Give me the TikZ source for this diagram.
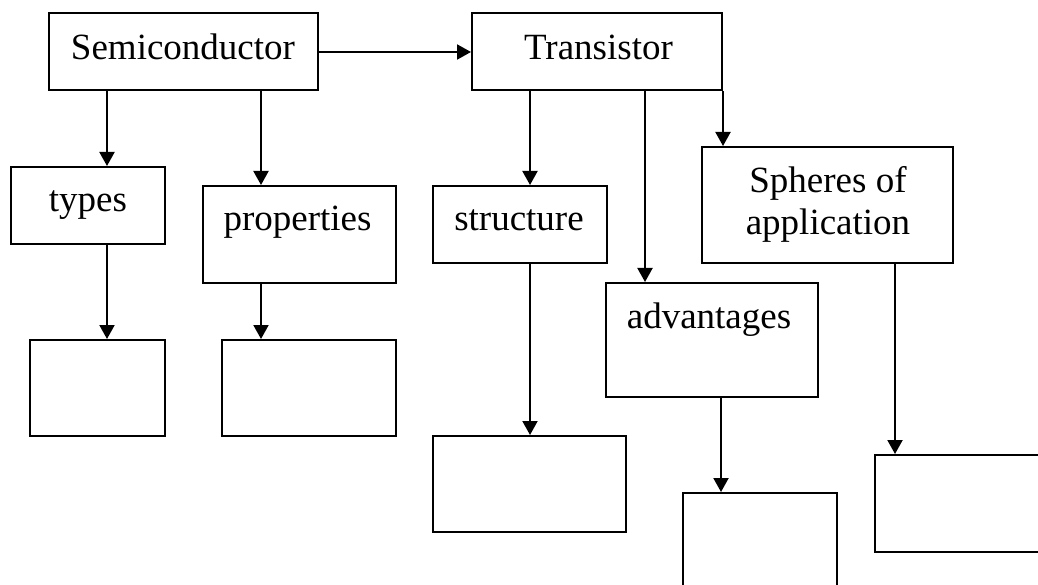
\documentclass[tikz,border=0pt]{standalone}
\usepackage{fontspec}
\setmainfont{Liberation Serif}
\usetikzlibrary{arrows.meta}
\tikzset{
  box/.style={draw=black, line width=2pt, inner sep=0pt, fill=white},
  txt/.style={inner sep=0pt, font=\fontsize{37}{42}\selectfont, anchor=base},
  arr/.style={line width=2pt, -{Triangle[length=14pt,width=15pt]}},
}
\newcommand{\boxat}[5]{% name, x1, y1, x2, y2
  \node[box, minimum width={(#4)-(#2)}, minimum height={(#5)-(#3)}] (#1) at ({((#2)+(#4))/2},{((#3)+(#5))/2}) {};}
\begin{document}
\begin{tikzpicture}[x=1pt,y=-1pt]
\clip (0,0) rectangle (1038,585);
\fill[white] (0,0) rectangle (1038,585);
% boxes
\boxat{semi}{49}{13}{318}{90}
\boxat{trans}{472}{13}{722}{90}
\boxat{types}{11}{167}{165}{244}
\boxat{props}{203}{186}{396}{283}
\boxat{struct}{433}{186}{607}{263}
\boxat{adv}{606}{283}{818}{397}
\boxat{spheres}{702}{147}{953}{263}
\boxat{typesc}{30}{340}{165}{436}
\boxat{propsc}{222}{340}{396}{436}
\boxat{structc}{433}{436}{626}{532}
\boxat{advc}{683}{493}{837}{620}
\boxat{spheresc}{875}{455}{1080}{552}
% texts
\node[txt] (tsemi) at (183,60) {Semiconductor};
\node[txt] (ttrans) at (598.5,60) {Transistor};
\node[txt] (ttypes) at (88,212) {types};
\node[txt] (tprops) at (297.5,231) {properties};
\node[txt] (tstruct) at (519,231) {structure};
\node[txt] (tadv) at (709,328) {advantages};
\node[txt, align=center] (tspheres) at (828,235) {Spheres of\\application};
% connectors
\draw[arr] (semi.east |- 0,52) -- (trans.west |- 0,52);
\draw[arr] (semi.south -| 107,0) -- (types.north -| 107,0);
\draw[arr] (semi.south -| 261,0) -- (props.north -| 261,0);
\draw[arr] (trans.south -| 530,0) -- (struct.north -| 530,0);
\draw[arr] (trans.south -| 645,0) -- (adv.north -| 645,0);
\draw[arr] (trans.south east) -- (spheres.north -| trans.south east);
\draw[arr] (types.south -| 107,0) -- (typesc.north -| 107,0);
\draw[arr] (props.south -| 261,0) -- (propsc.north -| 261,0);
\draw[arr] (struct.south -| 530,0) -- (structc.north -| 530,0);
\draw[arr] (adv.south -| 721,0) -- (advc.north -| 721,0);
\draw[arr] (spheres.south -| 895,0) -- (spheresc.north -| 895,0);
\end{tikzpicture}
\end{document}
